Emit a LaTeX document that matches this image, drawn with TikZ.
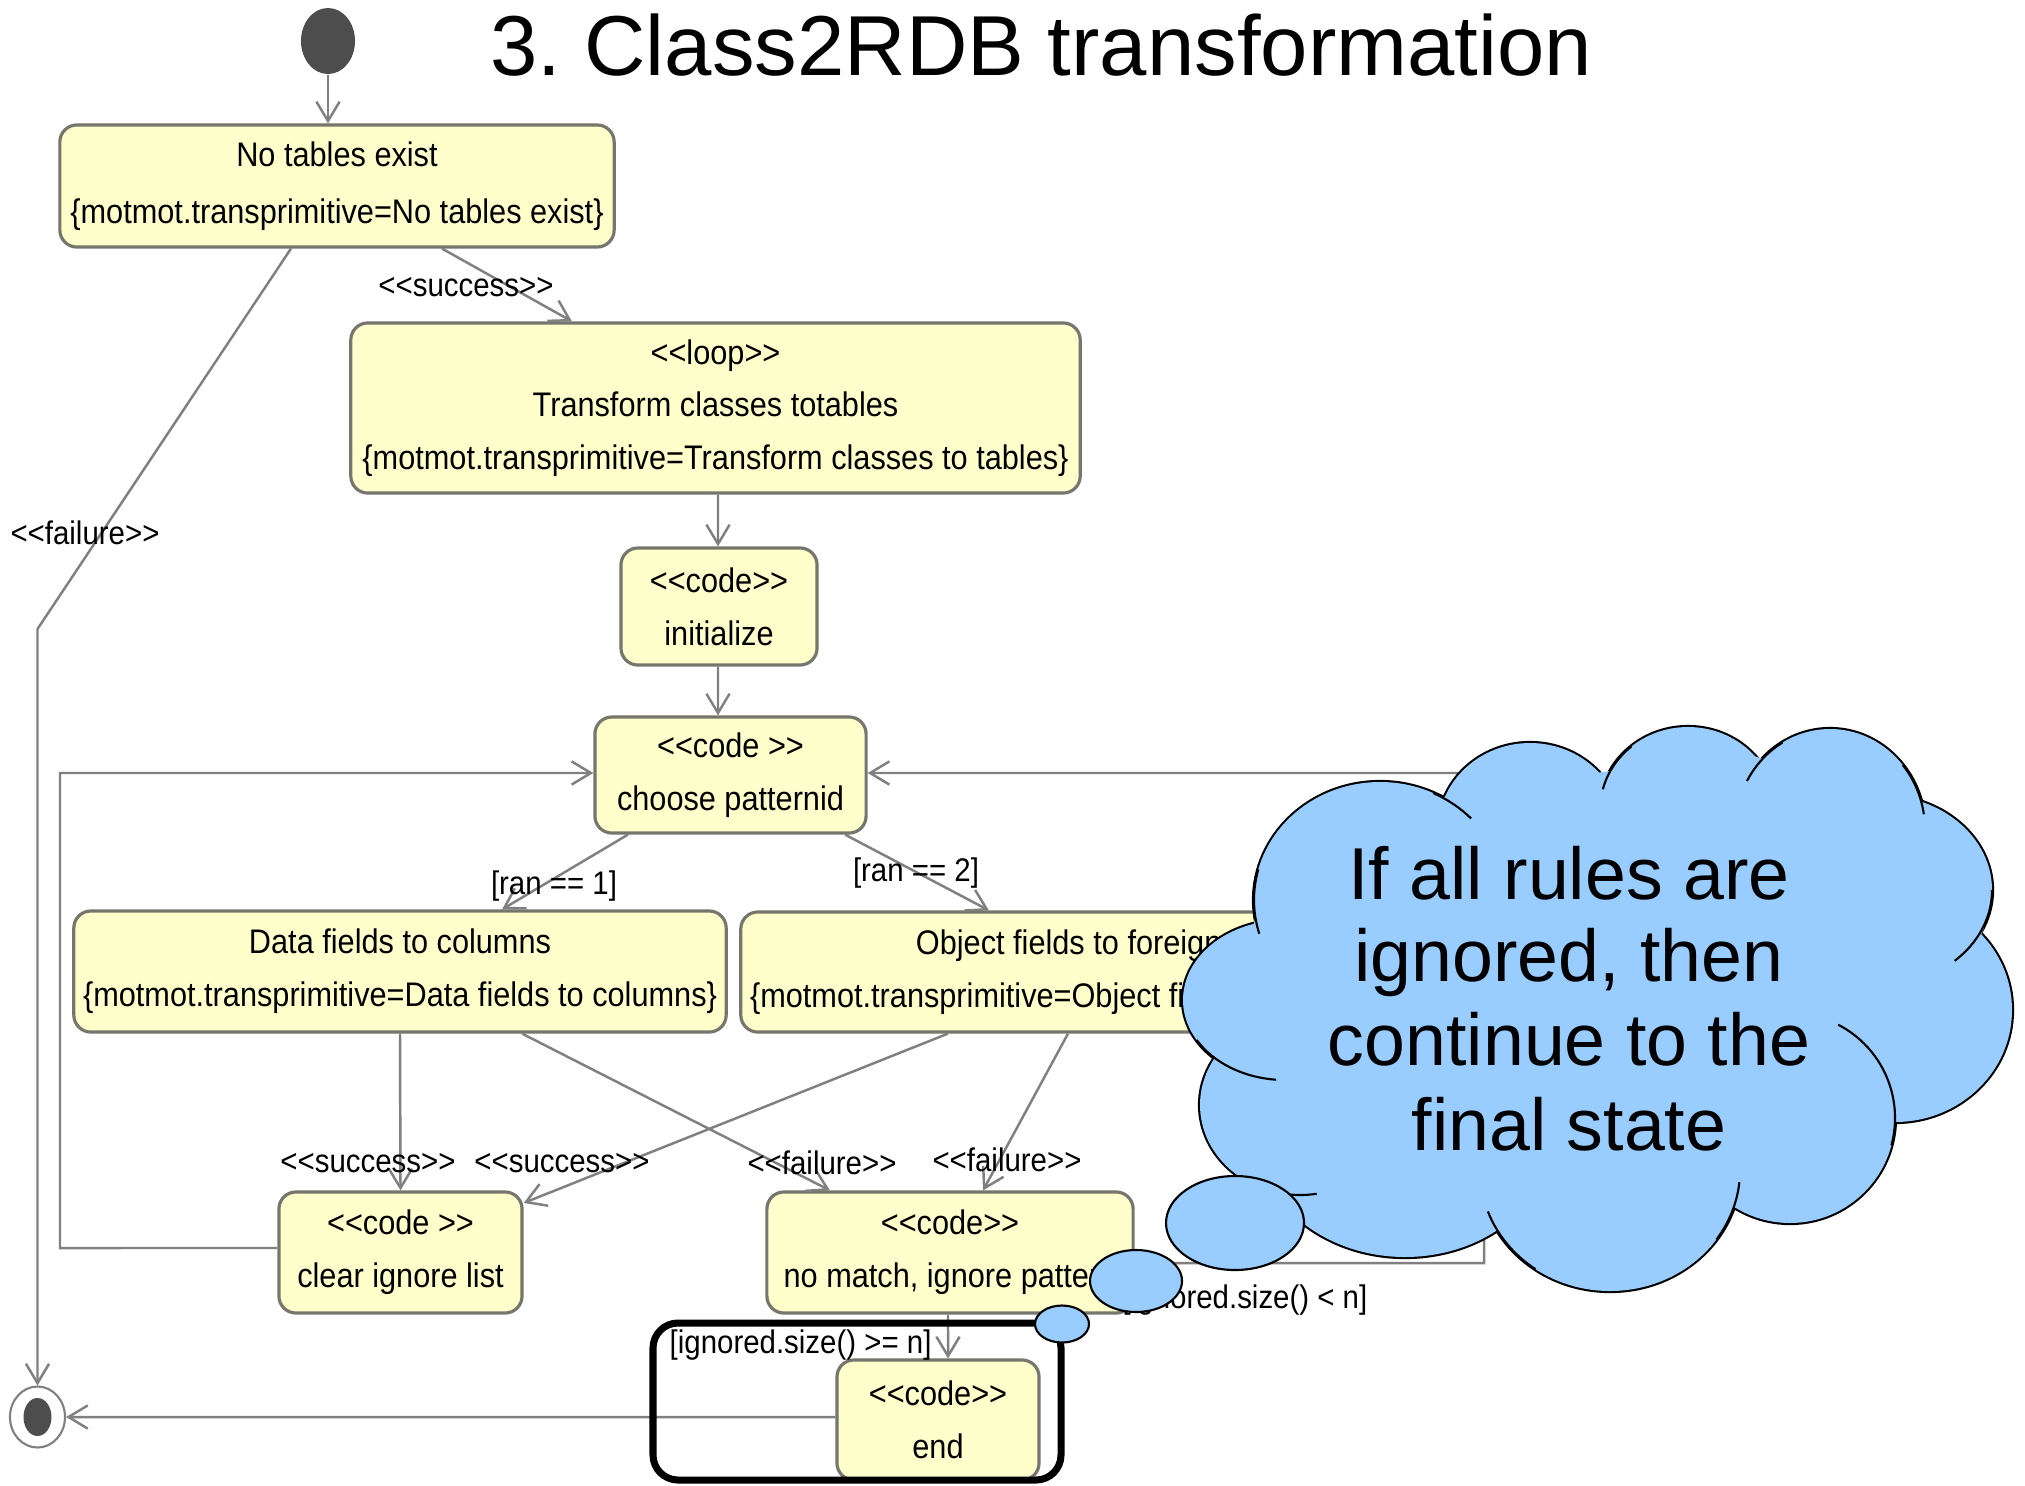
\documentclass[tikz,border=0pt]{standalone}
\usepackage{fontspec}
\setmainfont{Liberation Sans}
\newfontfamily\umlfont{Liberation Sans}[FakeStretch=0.9]
\usetikzlibrary{arrows.meta,shapes.geometric}
\definecolor{statefill}{RGB}{255,255,204}
\definecolor{stateline}{RGB}{118,118,108}
\definecolor{flowline}{RGB}{128,128,128}
\definecolor{pseudo}{RGB}{77,77,77}
\definecolor{cloudblue}{RGB}{153,204,255}
% stereotype brackets, kept apart so that << and >> are not turned into guillemets
\newcommand\stOpen{<\kern0pt<}
\newcommand\stClose{>\kern0pt>}
\begin{document}
\begin{tikzpicture}[x=0.01cm,y=-0.01cm,
  state/.style={draw=stateline, fill=statefill, line width=0.9pt, rounded corners=0.17cm,
     align=center, inner sep=0pt, font=\fontsize{9.7}{15}\umlfont},
  flow/.style={draw=flowline, line width=0.7pt, -{Straight Barb[length=5.5pt,width=6.6pt]}},
  guard/.style={inner sep=0pt, font=\fontsize{9.3}{11}\umlfont},
  bubble/.style={fill=cloudblue, draw=black, line width=0.6pt},
  crease/.style={draw=black, line width=0.6pt},
  cloudtext/.style={anchor=base, inner sep=0pt, font=\fontsize{20.9}{24}\selectfont},
]
\useasboundingbox (0,0) rectangle (2025,1485);
\fill[white] (0,0) rectangle (2025,1485);

% title
\node[anchor=base, inner sep=0pt, font=\fontsize{24.2}{29}\selectfont] (title) at (1041,76) {3.\ Class2RDB transformation};

% initial and final pseudo states
\node[ellipse, fill=pseudo, minimum width=0.54cm, minimum height=0.66cm, inner sep=0pt] (init0) at (328,41) {};
\node[ellipse, draw=flowline, fill=white, line width=0.6pt, minimum width=0.55cm, minimum height=0.61cm, inner sep=0pt] (fin) at (37.5,1417) {};
\fill[pseudo] (fin.center) ellipse [x radius=14, y radius=19];

% activity states
\node[state, minimum width=5.54cm, minimum height=1.22cm, font=\fontsize{9.7}{16.2}\umlfont] (nt) at (337,186)
  {No tables exist\\\{motmot.transprimitive=No tables exist\}};
\node[state, minimum width=7.29cm, minimum height=1.70cm] (loop) at (715.5,408)
  {\stOpen loop\stClose\\Transform classes totables\\\{motmot.transprimitive=Transform classes to tables\}};
\node[state, minimum width=1.96cm, minimum height=1.17cm] (init) at (719,606.5)
  {\stOpen code\stClose\\initialize};
\node[state, minimum width=2.71cm, minimum height=1.16cm] (choose) at (730.5,775)
  {\stOpen code \stClose\\choose patternid};
\node[state, minimum width=6.52cm, minimum height=1.21cm] (data) at (400,971.5)
  {Data fields to columns\\\{motmot.transprimitive=Data fields to columns\}};
\node[state, minimum width=7.27cm, minimum height=1.20cm] (object) at (1104.5,972)
  {Object fields to foreign keys\\\{motmot.transprimitive=Object fields to foreign keys\}};
\node[state, minimum width=2.43cm, minimum height=1.21cm] (clear) at (400.5,1252.5)
  {\stOpen code \stClose\\clear ignore list};
\node[state, minimum width=3.66cm, minimum height=1.21cm] (nomatch) at (950,1252.5)
  {\stOpen code\stClose\\no match, ignore pattern};
\node[state, minimum width=2.02cm, minimum height=1.20cm] (endb) at (938,1420)
  {\stOpen code\stClose\\end};

% transitions
\draw[flow] (init0) -- (init0 |- nt.north);
\draw[flow] ([xshift=1.05cm]nt.south) -- ([xshift=-1.435cm]loop.north);
\node[guard] (gs1) at (466,287) {\stOpen success\stClose};
\coordinate (fk) at (37.5,629);
\draw[flow] ([xshift=-0.46cm]nt.south) -- (fk) -- (fin.north);
\node[guard] (gf0) at (85,533) {\stOpen failure\stClose};
\draw[flow] ([xshift=0.025cm]loop.south) -- ([xshift=-0.01cm]init.north);
\draw[flow] ([xshift=-0.01cm]init.south) -- ([xshift=-0.125cm]choose.north);
\draw[flow] ([xshift=-1.025cm]choose.south) -- ([xshift=1.02cm]data.north);
\node[guard] (g1) at (554,886) {[ran == 1]};
\draw[flow] ([xshift=1.145cm]choose.south) -- ([xshift=-1.155cm]object.north);
\node[guard] (g2) at (916,873) {[ran == 2]};
\draw[flow] (data.south) -- (clear.north);
\node[guard] (gs2) at (368,1163) {\stOpen success\stClose};
\draw[flow] ([xshift=1.22cm]data.south) -- ([xshift=-1.2cm]nomatch.north);
\node[guard] (gf1) at (822,1163) {\stOpen failure\stClose};
\draw[flow] ([xshift=-1.565cm]object.south) -- ([yshift=0.495cm]clear.east);
\node[guard] (gs3) at (562,1163) {\stOpen success\stClose};
\draw[flow] ([xshift=-0.365cm]object.south) -- ([xshift=0.33cm]nomatch.north);
\node[guard] (gf2) at (1007,1160) {\stOpen failure\stClose};
\coordinate (lb1) at (60,1248);
\coordinate (lb2) at (60,773);
\draw[flow] ([yshift=0.045cm]clear.west) -- (lb1) -- (lb2) -- ([yshift=0.02cm]choose.west);
\coordinate (rb1) at (1484,1263);
\coordinate (rb2) at (1484,773);
\draw[flow] ([yshift=-0.105cm]nomatch.east) -- (rb1) -- (rb2) -- ([yshift=0.02cm]choose.east);
\node[guard, anchor=east] (g3) at (1368,1300) {[ignored.size() < n]};
\draw[flow] ([xshift=-0.02cm]nomatch.south) -- ([xshift=0.1cm]endb.north);
\node[guard, anchor=west] (g4) at (669,1345) {[ignored.size() >= n]};
\draw[flow] ([yshift=0.03cm]endb.west) -- (fin.east);

% highlight frame round the end state
\draw[line width=2pt, rounded corners=0.25cm] (653,1323) rectangle (1061,1480);

% thought cloud: doubled outline under the fill leaves only the outer rim
\def\cloudbumps{1530/830/92/87, 1688/810/88/83, 1830/830/95/101, 1880/890/112/95,
  1895/1010/117/112, 1790/1118/105/105, 1610/1170/130/121, 1405/1130/150/127,
  1300/1105/100/90, 1285/1000/102/80, 1380/900/126/118}
\foreach \cx/\cy/\rx/\ry in \cloudbumps
  \draw[black, line width=1.2pt] (\cx,\cy) ellipse [x radius=\rx, y radius=\ry];
\foreach \cx/\cy/\rx/\ry in \cloudbumps
  \fill[cloudblue] (\cx,\cy) ellipse [x radius=\rx, y radius=\ry];
\fill[cloudblue] (1449,794) -- (1610,771) -- (1745,754) -- (1916,798) -- (1984,928)
  -- (1898,1119) -- (1730,1209) -- (1484,1217) -- (1290,1195) -- (1224,1058)
  -- (1256,914) -- cycle;
% folds: each puff's rim running on a little way inside its neighbour
\draw[crease] (1380,900) ++(-65:126 and 118) arc [start angle=-65, end angle=-43.7, x radius=126, y radius=118];
\draw[crease] (1688,810) ++(-130:88 and 83) arc [start angle=-130, end angle=-165.5, x radius=88, y radius=83];
\draw[crease] (1830,830) ++(-120:95 and 101) arc [start angle=-120, end angle=-151, x radius=95, y radius=101];
\draw[crease] (1830,830) ++(-40:95 and 101) arc [start angle=-40, end angle=-9, x radius=95, y radius=101];
\draw[crease] (1880,890) ++(0:112 and 95) arc [start angle=0, end angle=48.2, x radius=112, y radius=95];
\draw[crease] (1790,1118) ++(-62.7:105 and 105) arc [start angle=-62.7, end angle=15, radius=105];
\draw[crease] (1610,1170) ++(35:130 and 121) arc [start angle=35, end angle=5.8, x radius=130, y radius=121];
\draw[crease] (1610,1170) ++(125:130 and 121) arc [start angle=125, end angle=160, x radius=130, y radius=121];
\draw[crease] (1300,1105) ++(110:100 and 90) arc [start angle=110, end angle=80.4, x radius=100, y radius=90];
\draw[crease] (1285,1000) ++(150:102 and 80) arc [start angle=150, end angle=95, x radius=102, y radius=80];
\draw[crease] (1380,900) ++(195:126 and 118) arc [start angle=195, end angle=163.4, x radius=126, y radius=118];

\node[cloudtext] (c1) at (1569,899) {If all rules are};
\node[cloudtext] (c2) at (1569,981) {ignored, then};
\node[cloudtext] (c3) at (1569,1065) {continue to the};
\node[cloudtext] (c4) at (1569,1150) {final state};

% trailing thought bubbles
\draw[bubble] (1235,1223) ellipse [x radius=69, y radius=47];
\draw[bubble] (1136,1281) ellipse [x radius=46, y radius=31];
\draw[bubble] (1062,1324) ellipse [x radius=27, y radius=18.5];
\end{tikzpicture}
\end{document}
